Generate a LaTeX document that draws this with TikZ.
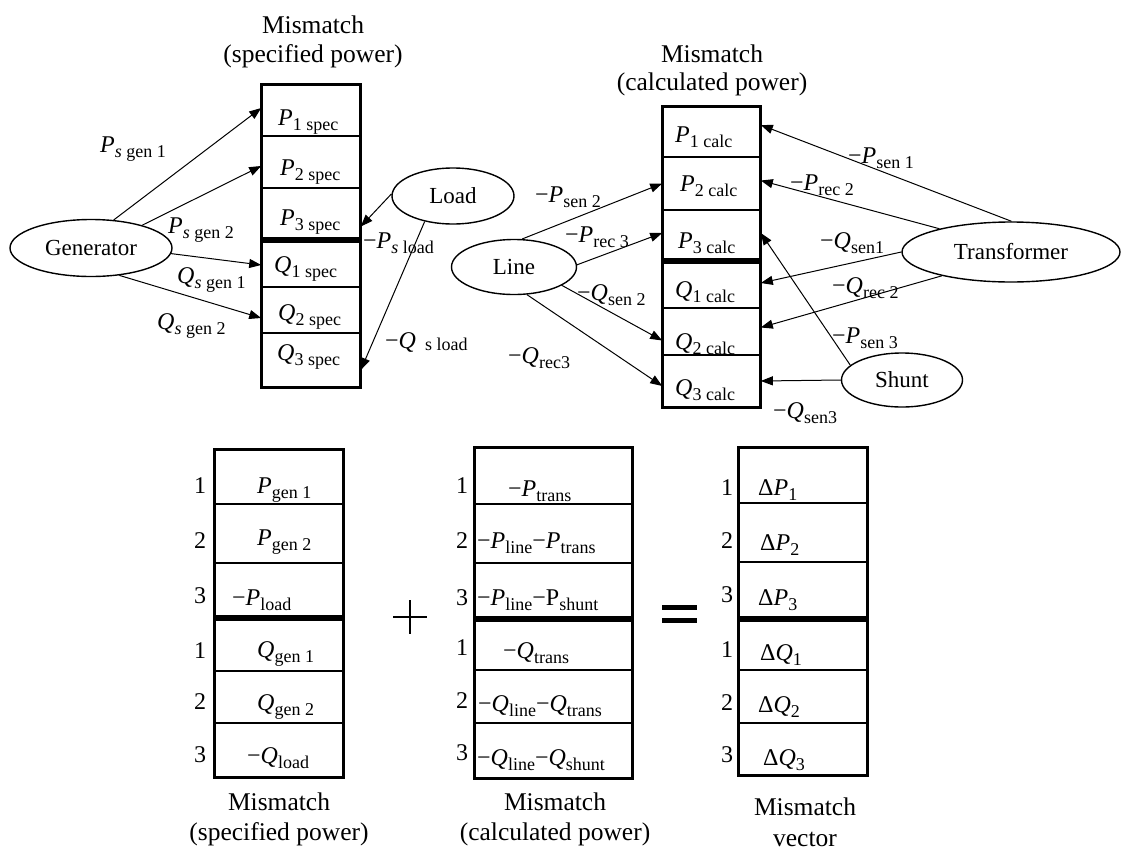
\documentclass[tikz,border=0pt]{standalone}
\usepackage{fontspec}
\setmainfont{Liberation Serif}
\usetikzlibrary{arrows.meta,calc,shapes.geometric}
\newcommand\sbx[2]{#1\raisebox{-5pt}{\fontsize{18}{18}\selectfont #2}}
\newcommand\ip{\textit{P}}
\newcommand\iq{\textit{Q}}
\begin{document}
\begin{tikzpicture}[x=1pt,y=-1pt,
  every node/.style={font=\fontsize{24}{28}\selectfont, inner sep=0pt},
  cell/.style={draw, line width=1.6pt, inner sep=0pt},
  frame/.style={line width=3pt},
  thickrule/.style={line width=6pt},
  ell/.style={ellipse, draw, line width=1.4pt, inner sep=0pt, font=\fontsize{23}{28}\selectfont},
  arr/.style={-{Triangle[length=12pt,width=9pt]}, line width=1pt},
  lab/.style={anchor=base west},
  txt/.style={anchor=base west},
  num/.style={anchor=base},
  ttl/.style={anchor=base, font=\fontsize{25.5}{29}\selectfont}]
\useasboundingbox (0,0) rectangle (1124,852);

% ---------- top: specified power column ----------
\node[ttl] (t1a) at (313,33) {Mismatch};
\node[ttl] (t1b) at (313,62) {(specified power)};
\foreach \n/\cy/\h in {1/110.5/51, 2/162/52, 3/213.5/51, 4/263/48, 5/310/46, 6/360/54}
  \node[cell, minimum width=98pt, minimum height=\h pt] (s\n) at (311,\cy) {};
\draw[frame] (s1.north west) rectangle (s6.south east);
\draw[thickrule] (s3.south west) -- (s3.south east);
\node[txt] at (278,125) {\sbx{\ip}{1 spec}};
\node[txt] at (280,175) {\sbx{\ip}{2 spec}};
\node[txt] at (280,225) {\sbx{\ip}{3 spec}};
\node[txt] at (274,272) {\sbx{\iq}{1 spec}};
\node[txt] at (278,320) {\sbx{\iq}{2 spec}};
\node[txt] at (277,360) {\sbx{\iq}{3 spec}};

% ---------- top: calculated power column ----------
\node[ttl] (t2a) at (712,62) {Mismatch};
\node[ttl] (t2b) at (712,90) {(calculated power)};
\foreach \n/\cy/\h in {1/132/50, 2/183.5/53, 3/235/50, 4/284/48, 5/331.5/47, 6/381/52}
  \node[cell, minimum width=97pt, minimum height=\h pt] (c\n) at (711.5,\cy) {};
\draw[frame] (c1.north west) rectangle (c6.south east);
\draw[thickrule] (c3.south west) -- (c3.south east);
\node[txt] at (675,142) {\sbx{\ip}{1 calc}};
\node[txt] at (680,191) {\sbx{\ip}{2 calc}};
\node[txt] at (678,248) {\sbx{\ip}{3 calc}};
\node[txt] at (675,297) {\sbx{\iq}{1 calc}};
\node[txt] at (675,349) {\sbx{\iq}{2 calc}};
\node[txt] at (675,395) {\sbx{\iq}{3 calc}};

% ---------- ellipses ----------
\node[ell, minimum width=162pt, minimum height=57pt] (gen) at (91,248) {Generator};
\node[ell, minimum width=122pt, minimum height=56pt] (load) at (453,196) {Load};
\node[ell, minimum width=125pt, minimum height=55pt] (line) at (514,267) {Line};
\node[ell, minimum width=218pt, minimum height=60pt] (tr) at (1011,252) {Transformer};
\node[ell, minimum width=121pt, minimum height=54pt] (sh) at (902,380) {Shunt};

% ---------- connectors: specified ----------
\draw[arr] (gen.51) -- ($(s1.west)+(0,-2.5)$);
\draw[arr] (gen.24) -- ($(s2.west)+(0,4)$);
\draw[arr] (gen.-4) -- ($(s4.west)+(0,2)$);
\draw[arr] (gen.-44) -- ($(s5.west)+(0,8)$);
\draw[arr] (load.178) -- ($(s3.east)+(0,13)$);
\draw[arr] (load.-138) -- ($(s6.east)+(0,10)$);

\node[lab] at (100,152) {\sbx{\ip}{\textit{s} gen 1}};
\node[lab] at (168,233) {\sbx{\ip}{\textit{s} gen 2}};
\node[lab] at (177,283) {\sbx{\iq}{\textit{s} gen 1}};
\node[lab] at (157,329) {\sbx{\iq}{\textit{s} gen 2}};
\node[lab] at (363,248) {−\sbx{\ip}{\textit{s} load}};
\node[lab] at (385,348) {−\iq\hspace{9pt}\raisebox{-2pt}{\fontsize{18}{18}\selectfont s load}};

% ---------- connectors: calculated ----------
\draw[arr] (line.74) -- (c2.west);
\draw[arr] (line.2) -- ($(c3.west)+(0,-2)$);
\draw[arr] (line.-21) -- ($(c5.west)+(0,9)$);
\draw[arr] (line.-65) -- ($(c6.west)+(0,5)$);
\draw[arr] (tr.89) -- ($(c1.east)+(0,-7)$);
\draw[arr] (tr.162) -- ($(c2.east)+(0,-3)$);
\draw[arr] (tr.180) -- ($(c4.east)+(0,-1)$);
\draw[arr] (tr.-161) -- ($(c5.east)+(0,-4)$);
\draw[arr] (sh.164) -- ($(c3.east)+(0,-2)$);
\draw[arr] (sh.180) -- (c6.east);

\node[lab] at (535,202) {−\sbx{\ip}{sen 2}};
\node[lab] at (565,242) {−\sbx{\ip}{rec 3}};
\node[lab] at (577,300) {−\sbx{\iq}{sen 2}};
\node[lab] at (508,363) {−\sbx{\iq}{rec3}};
\node[lab] at (848,163) {−\sbx{\ip}{sen 1}};
\node[lab] at (790,190) {−\sbx{\ip}{rec 2}};
\node[lab] at (820,248) {−\sbx{\iq}{sen1}};
\node[lab] at (832,293) {−\sbx{\iq}{rec 2}};
\node[lab] at (832,343) {−\sbx{\ip}{sen 3}};
\node[lab] at (773,418) {−\sbx{\iq}{sen3}};

% ---------- bottom: specified ----------
\foreach \n/\cy/\h in {1/477/54, 2/533.5/59, 3/590/54, 4/644/54, 5/697/52, 6/750/54}
  \node[cell, minimum width=128pt, minimum height=\h pt] (b\n) at (279,\cy) {};
\draw[frame] (b1.north west) rectangle (b6.south east);
\draw[thickrule] (b3.south west) -- (b3.south east);
\foreach \k/\y in {1/493, 2/548, 3/603, 1/658, 2/709, 3/762}
  \node[num] at (200,\y) {\k};
\node[txt] at (257,493) {\sbx{\ip}{gen 1}};
\node[txt] at (257,545) {\sbx{\ip}{gen 2}};
\node[txt] at (232,605) {−\sbx{\ip}{load}};
\node[txt] at (257,657) {\sbx{\iq}{gen 1}};
\node[txt] at (257,710) {\sbx{\iq}{gen 2}};
\node[txt] at (247,763) {−\sbx{\iq}{load}};
\node[ttl] (b1t) at (279,810) {Mismatch};
\node[ttl] (b2t) at (279,840) {(specified power)};

% ---------- plus ----------
\draw[line width=2.5pt] (393,617) -- (427,617) (410,600) -- (410,634);

% ---------- bottom: calculated ----------
\foreach \n/\cy/\h in {1/476/56, 2/533.5/59, 3/590.5/55, 4/644/52, 5/696.5/53, 6/750.5/55}
  \node[cell, minimum width=157pt, minimum height=\h pt] (d\n) at (553.5,\cy) {};
\draw[frame] (d1.north west) rectangle (d6.south east);
\draw[thickrule] (d3.south west) -- (d3.south east);
\foreach \k/\y in {1/493, 2/548, 3/605, 1/655, 2/708, 3/760}
  \node[num] at (462,\y) {\k};
\node[txt] at (508,496) {−\sbx{\ip}{trans}};
\node[txt] at (477,548) {−\sbx{\ip}{line}−\sbx{\ip}{trans}};
\node[txt] at (477,605) {−\sbx{\ip}{line}−\sbx{P}{shunt}};
\node[txt] at (503,658) {−\sbx{\iq}{trans}};
\node[txt] at (478,711) {−\sbx{\iq}{line}−\sbx{\iq}{trans}};
\node[txt] at (477,765) {−\sbx{\iq}{line}−\sbx{\iq}{shunt}};
\node[ttl] (d1t) at (555,810) {Mismatch};
\node[ttl] (d2t) at (555,840) {(calculated power)};

% ---------- equals ----------
\draw[line width=4.5pt] (662,607.5) -- (697,607.5) (662,620.5) -- (697,620.5);

% ---------- mismatch vector ----------
\foreach \n/\cy/\h in {1/475.5/55, 2/532.5/59, 3/590/56, 4/644/52, 5/696.5/53, 6/749/52}
  \node[cell, minimum width=128pt, minimum height=\h pt] (v\n) at (803,\cy) {};
\draw[frame] (v1.north west) rectangle (v6.south east);
\draw[thickrule] (v3.south west) -- (v3.south east);
\foreach \k/\y in {1/495, 2/548, 3/602, 1/657, 2/710, 3/762}
  \node[num] at (727,\y) {\k};
\node[txt] at (758,495) {\sbx{Δ\ip}{1}};
\node[txt] at (760,550) {\sbx{Δ\ip}{2}};
\node[txt] at (758,605) {\sbx{Δ\ip}{3}};
\node[txt] at (760,660) {\sbx{Δ\iq}{1}};
\node[txt] at (758,712) {\sbx{Δ\iq}{2}};
\node[txt] at (763,765) {\sbx{Δ\iq}{3}};
\node[ttl] (v1t) at (805,815) {Mismatch};
\node[ttl] (v2t) at (805,846) {vector};
\end{tikzpicture}
\end{document}
